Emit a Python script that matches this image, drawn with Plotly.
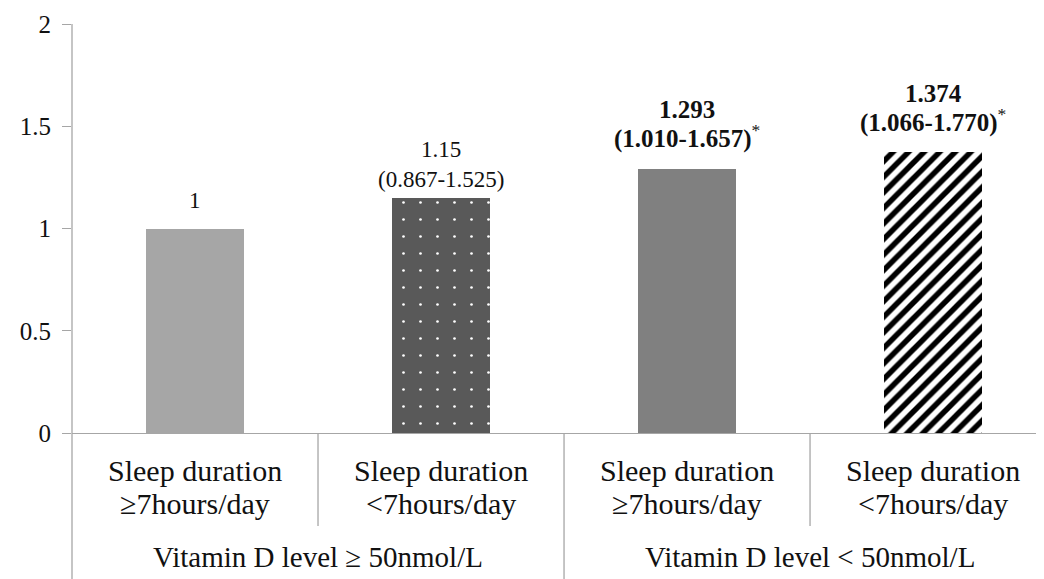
import plotly.graph_objects as go

cat_line1 = ["Sleep duration", "Sleep duration", "Sleep duration", "Sleep duration"]
cat_line2 = ["≥7hours/day", "<7hours/day", "≥7hours/day", "<7hours/day"]
groups = ["Vitamin D level ≥ 50nmol/L", "Vitamin D level < 50nmol/L"]
group_of = [0, 0, 1, 1]
values = [1, 1.15, 1.293, 1.374]
value_labels = ["1", "1.15", "1.293", "1.374"]
ci_labels = ["", "(0.867-1.525)", "(1.010-1.657)", "(1.066-1.770)"]
significant = [False, False, True, True]
y_ticks = [0, 0.5, 1, 1.5, 2]
y_ticklabels = ["0", "0.5", "1", "1.5", "2"]

# styling
FONT = "Liberation Serif"
TXT = "#111111"
AX = "#a6a6a6"
label_yshift = [14, 4, 14, 13]
colors = ["#a6a6a6", "#595959", "#808080", "#ffffff"]
patterns = [
    dict(shape=""),
    dict(shape=".", fgcolor="#ffffff", bgcolor="#595959", size=17, solidity=0.02, fillmode="replace"),
    dict(shape=""),
    dict(shape="/", fgcolor="#000000", bgcolor="#ffffff", size=11, solidity=0.5, fillmode="replace"),
]
PLOT_H = 409.0

xs = list(range(len(values)))
fig = go.Figure()
for i in xs:
    fig.add_trace(go.Bar(x=[i], y=[values[i]], width=0.4,
                         marker=dict(color=colors[i], line=dict(width=0), pattern=patterns[i]),
                         showlegend=False, hoverinfo="skip"))
    lines = [value_labels[i]]
    if ci_labels[i]:
        lines.append(ci_labels[i])
    size = 23
    if significant[i]:
        lines = ["<b>" + l + "</b>" for l in lines]
        lines[-1] = lines[-1] + "<sup>*</sup>"
        size = 25
    n = len(lines)
    for k, l in enumerate(lines):
        fig.add_annotation(x=i, y=values[i], xref="x", yref="y", text=l, showarrow=False,
                           yanchor="bottom", yshift=label_yshift[i] + (n - 1 - k) * 30,
                           font=dict(family=FONT, size=size, color=TXT))
    # category labels
    fig.add_annotation(x=i, y=-37 / PLOT_H, xref="x", yref="paper", text=cat_line1[i], showarrow=False,
                       yanchor="middle", font=dict(family=FONT, size=30, color=TXT))
    fig.add_annotation(x=i, y=-70 / PLOT_H, xref="x", yref="paper", text=cat_line2[i], showarrow=False,
                       yanchor="middle", font=dict(family=FONT, size=30, color=TXT))

# group labels
for g, name in enumerate(groups):
    members = [i for i in xs if group_of[i] == g]
    fig.add_annotation(x=sum(members) / len(members), y=-124 / PLOT_H, xref="x", yref="paper", text=name,
                       showarrow=False, yanchor="middle", font=dict(family=FONT, size=29, color=TXT))

# dividers
line = dict(color=AX, width=1.3)
fig.add_shape(type="line", xref="paper", yref="paper", x0=0, x1=0, y0=1, y1=-146 / PLOT_H, line=line)
for i in range(len(xs) - 1):
    xb = i + 0.5
    y1 = -146 / PLOT_H if group_of[i] != group_of[i + 1] else -93 / PLOT_H
    fig.add_shape(type="line", xref="x", yref="paper", x0=xb, x1=xb, y0=0, y1=y1, line=line)

fig.update_layout(
    width=1036, height=571, margin=dict(l=64, r=0, t=16, b=146, autoexpand=False),
    paper_bgcolor="white", plot_bgcolor="white", bargap=0,
    font=dict(family=FONT, size=25, color=TXT),
)
fig.update_xaxes(range=[-0.5, 3.451], tickvals=xs, showticklabels=False, showgrid=False, zeroline=False,
                 showline=True, linecolor=AX, linewidth=1.3, ticks="", automargin=False)
fig.update_yaxes(range=[0, 2], tickvals=y_ticks, ticktext=y_ticklabels, showgrid=False, zeroline=False,
                 showline=False, ticks="outside", ticklen=9, tickcolor=AX, tickwidth=1.3,
                 ticklabelstandoff=6, automargin=False,
                 tickfont=dict(family=FONT, size=25, color=TXT))
fig.write_html("out.html")
